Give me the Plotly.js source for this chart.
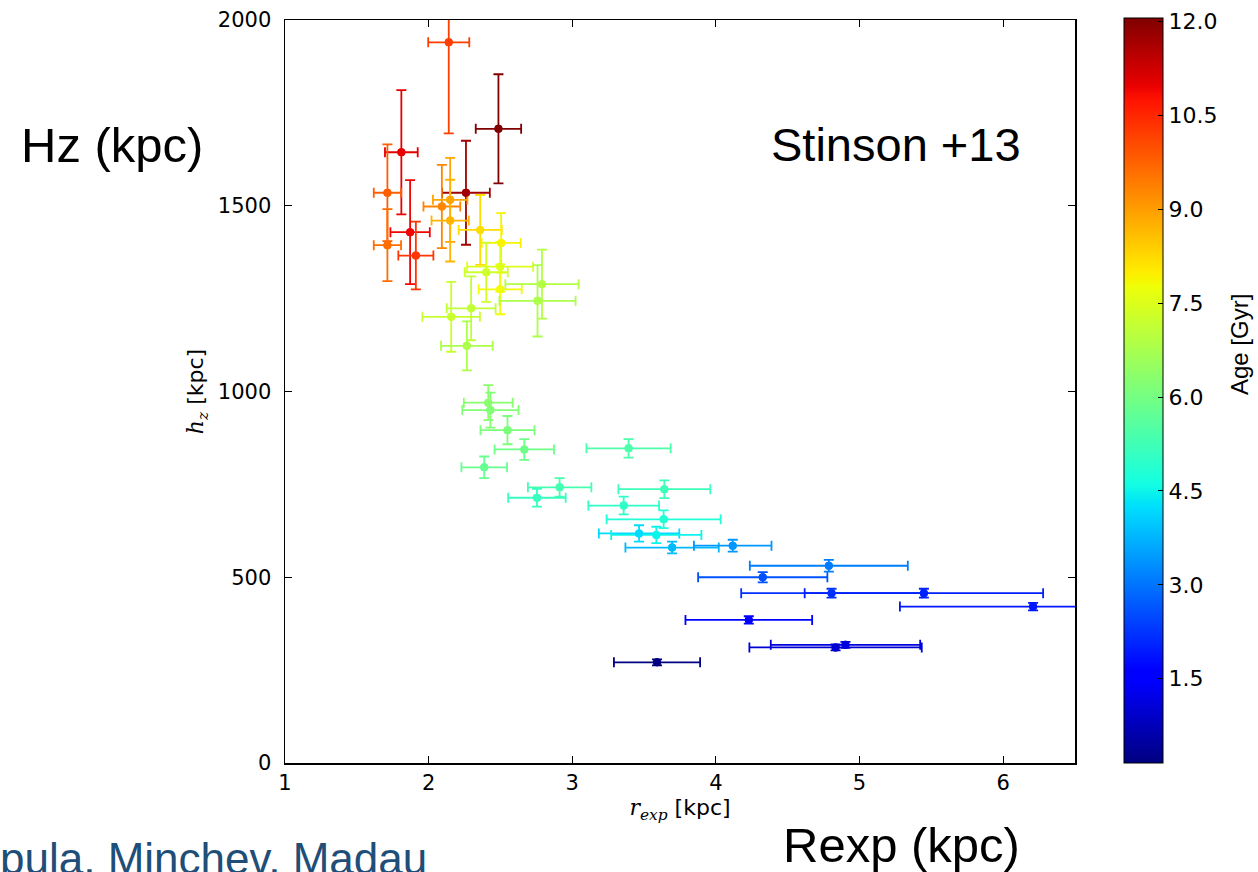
<!DOCTYPE html>
<html>
<head>
<meta charset="utf-8">
<script src="https://cdn.plot.ly/plotly-3.0.1.min.js"></script>
<style>html,body{margin:0;padding:0;background:#fff;}#chart{width:1258px;height:872px;}</style>
</head>
<body>
<div id="chart"></div>
<script>
// Data (r_exp [kpc], h_z [kpc], symmetric errors, age [Gyr])
const rexp  = [2.14, 2.486, 1.81, 2.26, 1.713, 1.713, 1.871, 1.911, 2.092, 2.15, 2.15,
               2.359, 2.505, 2.498, 2.401, 2.498, 2.789, 2.758, 2.296, 2.157, 2.266,
               2.415, 2.43, 2.549, 2.666, 2.387, 3.392, 2.912, 2.754, 3.641, 3.358,
               3.636, 3.465, 3.585, 3.695, 4.117, 4.786, 4.326, 4.805, 5.448, 6.208,
               4.229, 4.833, 4.902, 3.59];
const hz    = [1940, 1707, 1644, 1535, 1535, 1394, 1429, 1366, 1498, 1516, 1460,
               1435, 1400, 1336, 1321, 1275, 1289, 1244, 1224, 1201, 1123,
               970, 950, 896, 844, 796, 847, 742, 714, 737, 693,
               656, 618, 614, 580, 585, 531, 500, 457, 457, 421,
               385, 311, 318, 271];
const rerr  = [0.143, 0.158, 0.114, 0.166, 0.095, 0.095, 0.137, 0.122, 0.128, 0.12, 0.13,
               0.15, 0.136, 0.23, 0.15, 0.15, 0.255, 0.265, 0.17, 0.2, 0.18,
               0.17, 0.196, 0.188, 0.207, 0.159, 0.293, 0.221, 0.2, 0.32, 0.246,
               0.397, 0.28, 0.314, 0.325, 0.27, 0.55, 0.45, 0.629, 0.83, 0.927,
               0.441, 0.6, 0.52, 0.3];
const hzerr = [245, 147, 167, 140, 130, 97, 140, 91, 112, 113, 110,
               94, 80, 67, 80, 67, 93, 96, 86, 94, 66,
               47, 47, 38, 28, 29, 25, 25, 24, 24, 24,
               24, 22, 22, 16, 16, 16, 14, 12, 12, 10,
               10, 8, 8, 8];
const age   = [10.2, 12.05, 11.0, 11.7, 9.8, 9.6, 10.9, 10.3, 9.3, 8.9, 8.7,
               8.2, 7.9, 7.5, 7.3, 7.8, 6.9, 6.8, 7.1, 7.2, 6.8,
               6.3, 6.2, 6.1, 5.9, 5.8, 5.4, 5.3, 5.1, 5.2, 5.0,
               4.8, 4.2, 4.5, 3.8, 3.4, 3.1, 2.6, 2.2, 2.0, 1.9,
               1.6, 1.0, 1.1, 0.15];
const ageMin = 0.15, ageMax = 12.05;
const cbTicks = [1.5, 3.0, 4.5, 6.0, 7.5, 9.0, 10.5, 12.0];

// matplotlib-like jet colormap
const jetStops = [
  [0.0,   [0, 0, 128]],
  [0.11,  [0, 0, 255]],
  [0.125, [0, 0, 255]],
  [0.34,  [0, 219, 255]],
  [0.35,  [0, 229, 247]],
  [0.375, [20, 255, 226]],
  [0.64,  [239, 255, 8]],
  [0.65,  [247, 245, 0]],
  [0.66,  [255, 236, 0]],
  [0.89,  [255, 19, 0]],
  [0.91,  [232, 0, 0]],
  [1.0,   [128, 0, 0]]
];
const colorscale = jetStops.map(s => [s[0], 'rgb(' + s[1].join(',') + ')']);
function jet(v) {
  let t = (v - ageMin) / (ageMax - ageMin);
  t = Math.max(0, Math.min(1, t));
  for (let i = 1; i < jetStops.length; i++) {
    if (t <= jetStops[i][0]) {
      const [t0, c0] = jetStops[i - 1], [t1, c1] = jetStops[i];
      const f = (t - t0) / (t1 - t0 || 1);
      return 'rgb(' + c0.map((c, k) => Math.round(c + f * (c1[k] - c))).join(',') + ')';
    }
  }
  return 'rgb(128,0,0)';
}

const traces = [];
for (let i = 0; i < rexp.length; i++) {
  const col = jet(age[i]);
  traces.push({
    type: 'scatter', mode: 'markers',
    x: [rexp[i]], y: [hz[i]],
    marker: {color: col, size: 8, line: {width: 0}},
    error_x: {type: 'data', array: [rerr[i]], color: col, thickness: 1.8, width: 5},
    error_y: {type: 'data', array: [hzerr[i]], color: col, thickness: 1.8, width: 5},
    showlegend: false, hoverinfo: 'skip'
  });
}
traces.push({
  type: 'scatter', mode: 'markers',
  x: rexp, y: hz,
  marker: {
    color: age, colorscale: colorscale, cmin: ageMin, cmax: ageMax, size: 8, line: {width: 0},
    showscale: true,
    colorbar: {
      x: 1.062, xanchor: 'left', xpad: 0, ypad: 0,
      y: 0.501, yanchor: 'middle', len: 1.003, lenmode: 'fraction',
      thickness: 39, thicknessmode: 'pixels',
      outlinewidth: 1, outlinecolor: '#000',
      ticks: 'inside', ticklen: 5, tickcolor: '#000',
      tickvals: cbTicks, tickformat: '.1f',
      tickfont: {family: 'DejaVu Sans', size: 22, color: '#000'}
    }
  },
  showlegend: false, hoverinfo: 'skip'
});

const axisFont = {family: 'DejaVu Sans', size: 21, color: '#000'};
const layout = {
  width: 1258, height: 872,
  margin: {l: 285, r: 183, t: 20, b: 109},
  paper_bgcolor: '#fff', plot_bgcolor: '#fff',
  xaxis: {
    range: [1, 6.5], dtick: 1, tick0: 1, showgrid: false, zeroline: false,
    ticks: 'inside', ticklen: 7, tickcolor: '#000', tickwidth: 1,
    showline: true, linecolor: '#000', linewidth: 1.5, mirror: 'allticks',
    tickfont: axisFont, ticklabelstandoff: 0,
    title: {text: '<span style="font-family:DejaVu Serif"><i>r</i><sub><i>exp</i></sub></span> [kpc]',
            font: {family: 'DejaVu Sans', size: 22, color: '#000'}, standoff: 6}
  },
  yaxis: {
    range: [0, 2000], dtick: 500, showgrid: false, zeroline: false,
    ticks: 'inside', ticklen: 7, tickcolor: '#000', tickwidth: 1,
    showline: true, linecolor: '#000', linewidth: 1.5, mirror: 'allticks',
    tickfont: axisFont, ticklabelstandoff: 8,
    title: {text: '<span style="font-family:DejaVu Serif"><i>h</i><sub><i>z</i></sub></span> [kpc]',
            font: {family: 'DejaVu Sans', size: 22, color: '#000'}, standoff: 8}
  },
  annotations: [
    {xref: 'paper', yref: 'paper', x: -0.219, y: 0.832, xanchor: 'center', yanchor: 'middle',
     text: 'Hz (kpc)', showarrow: false, font: {family: 'Liberation Sans', size: 49, color: '#000'}},
    {xref: 'paper', yref: 'paper', x: 0.773, y: 0.832, xanchor: 'center', yanchor: 'middle',
     text: 'Stinson +13', showarrow: false, font: {family: 'Liberation Sans', size: 47, color: '#000'}},
    {xref: 'paper', yref: 'paper', x: 0.780, y: -0.110, xanchor: 'center', yanchor: 'middle',
     text: 'Rexp (kpc)', showarrow: false, font: {family: 'Liberation Sans', size: 49, color: '#000'}},
    {xref: 'paper', yref: 'paper', x: -0.363, y: -0.128, xanchor: 'left', yanchor: 'middle',
     text: 'pula, Minchev, Madau', showarrow: false, font: {family: 'Liberation Sans', size: 44, color: 'rgb(31,78,121)'}},
    {xref: 'paper', yref: 'paper', x: 1.208, y: 0.563, xanchor: 'center', yanchor: 'middle',
     text: 'Age [Gyr]', textangle: -90, showarrow: false, font: {family: 'Liberation Sans', size: 24, color: '#000'}}
  ]
};

Plotly.newPlot('chart', traces, layout, {displayModeBar: false, staticPlot: true});
</script>
</body>
</html>
